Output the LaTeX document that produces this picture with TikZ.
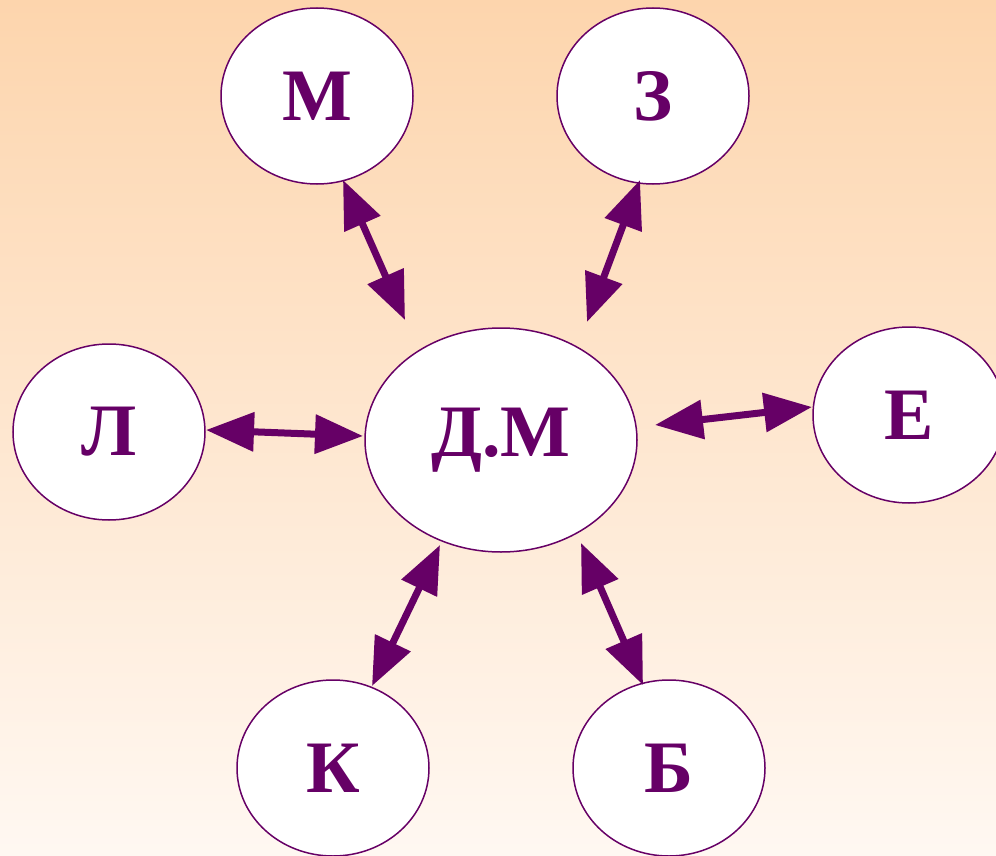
\documentclass[tikz,border=0pt]{standalone}
\usepackage{fontspec}
\setmainfont{Liberation Serif}
\usetikzlibrary{arrows.meta,shapes.geometric}
\definecolor{plum}{HTML}{660066}
\definecolor{peachtop}{HTML}{FDD5AD}
\definecolor{peachbot}{HTML}{FFF8F2}
\begin{document}
\begin{tikzpicture}[x=1pt,y=-1pt,
  oval/.style={ellipse,draw=plum,line width=1.5pt,fill=white,inner sep=0pt,
    font=\fontsize{74}{74}\selectfont\bfseries,text=plum},
  link/.style={plum,line width=7pt,{Triangle[length=48pt,width=38pt]}-{Triangle[length=48pt,width=38pt]}}]
\shade[top color=peachtop,bottom color=peachbot] (0,0) rectangle (996,856);
\useasboundingbox (0,0) rectangle (996,856);
\node[oval,minimum width=192pt,minimum height=176pt] (m) at (317,96) {М};
\node[oval,minimum width=192pt,minimum height=176pt] (z) at (653,96) {З};
\node[oval,minimum width=192pt,minimum height=176pt] (l) at (109,432) {Л};
\node[oval,minimum width=272pt,minimum height=224pt] (dm) at (501,440) {Д.М};
\node[oval,minimum width=192pt,minimum height=176pt] (e) at (909,415) {Е};
\node[oval,minimum width=192pt,minimum height=176pt] (k) at (333,768) {К};
\node[oval,minimum width=192pt,minimum height=176pt] (b) at (669,768) {Б};
\coordinate (m1) at (343,180); \coordinate (m2) at (405,320);
\coordinate (z1) at (640,180); \coordinate (z2) at (587,322);
\coordinate (l1) at (206,430); \coordinate (l2) at (363,436);
\coordinate (e1) at (655,425); \coordinate (e2) at (812,407);
\coordinate (k1) at (440,545); \coordinate (k2) at (372,686);
\coordinate (b1) at (581,543); \coordinate (b2) at (643,685);
\draw[link] (m1) -- (m2);
\draw[link] (z1) -- (z2);
\draw[link] (l1) -- (l2);
\draw[link] (e1) -- (e2);
\draw[link] (k1) -- (k2);
\draw[link] (b1) -- (b2);
\end{tikzpicture}
\end{document}
